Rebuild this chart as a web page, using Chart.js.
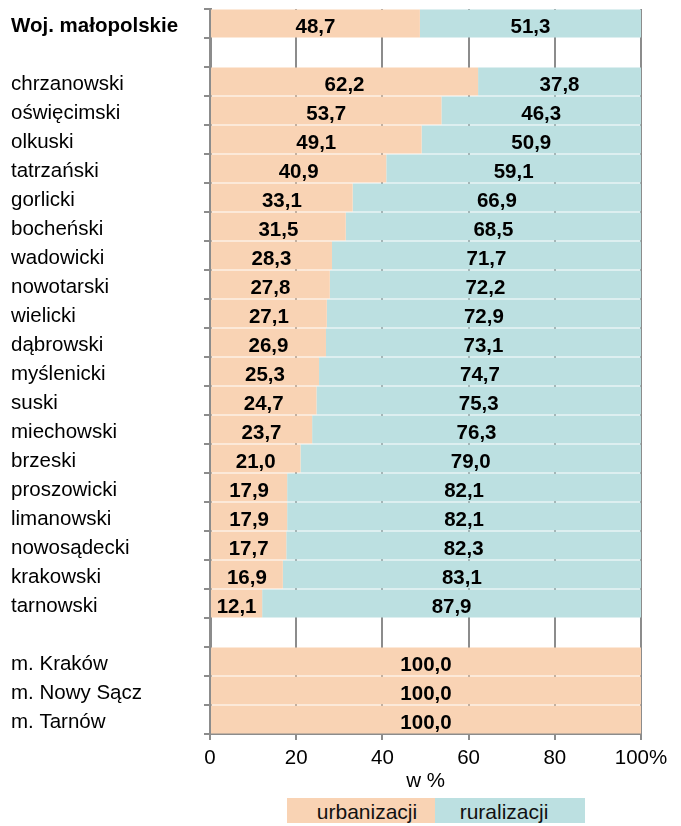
<!DOCTYPE html>
<html>
<head>
<meta charset="utf-8">
<script src="https://cdn.jsdelivr.net/npm/chart.js@4"></script>
<style>
  body { margin: 0; background: #fff; font-family: "Liberation Sans", Arial, sans-serif; }
  #wrap { position: relative; width: 681px; height: 826px; }
  #chart { position: absolute; left: 0; top: 0; }
  #legend { position: absolute; left: 287px; top: 798px; display: flex; }
  #legend div { height: 25px; line-height: 27px; font-size: 21px; text-align: center; color: #111; box-sizing: border-box; }
</style>
</head>
<body>
<div id="wrap">
  <canvas id="chart" width="681" height="800"></canvas>
  <div id="legend"></div>
</div>
<script>
// rows, in order from top; blank labels are the gaps between groups
const labels = ['Woj. małopolskie', ' ', 'chrzanowski', 'oświęcimski', 'olkuski', 'tatrzański', 'gorlicki',
    'bocheński', 'wadowicki', 'nowotarski', 'wielicki', 'dąbrowski', 'myślenicki', 'suski', 'miechowski',
    'brzeski', 'proszowicki', 'limanowski', 'nowosądecki', 'krakowski', 'tarnowski', '  ',
    'm. Kraków', 'm. Nowy Sącz', 'm. Tarnów'];
const urbanizacji = [48.7, null, 62.2, 53.7, 49.1, 40.9, 33.1, 31.5, 28.3, 27.8, 27.1, 26.9, 25.3, 24.7,
    23.7, 21.0, 17.9, 17.9, 17.7, 16.9, 12.1, null, 100.0, 100.0, 100.0];
const ruralizacji = [51.3, null, 37.8, 46.3, 50.9, 59.1, 66.9, 68.5, 71.7, 72.2, 72.9, 73.1, 74.7, 75.3,
    76.3, 79.0, 82.1, 82.1, 82.3, 83.1, 87.9, null, null, null, null];
const xTicks = [0, 20, 40, 60, 80, 100];

const peach = '#F9D3B4';
const teal = '#BCE0E1';
const gridGrey = '#8C8C8C';
const font = '"Liberation Sans", Arial, sans-serif';

// value labels in the middle of each segment (sit a bit low, like the original)
const valueLabels = {
    id: 'valueLabels',
    beforeDraw(chart) {
        // nudge the category labels down a few px
        const items = chart.scales.y.getLabelItems();
        items.forEach(it => {
            if (!it._nudged) { it.textOffset += 3; it._nudged = true; }
        });
    },
    afterDatasetsDraw(chart) {
        const ctx = chart.ctx;
        ctx.save();
        ctx.font = 'bold 20.5px ' + font;
        ctx.fillStyle = '#000';
        ctx.textAlign = 'center';
        ctx.textBaseline = 'middle';
        chart.data.datasets.forEach((ds, i) => {
            chart.getDatasetMeta(i).data.forEach((bar, j) => {
                const v = ds.data[j];
                if (v == null || v === 0) return;
                const x = (bar.x + bar.base) / 2;
                ctx.fillText(v.toFixed(1).replace('.', ','), x, bar.y + 3.5);
            });
        });
        ctx.restore();
    }
};

const chart = new Chart(document.getElementById('chart'), {
    type: 'bar',
    data: {
        labels: labels,
        datasets: [
            { label: 'urbanizacji', data: urbanizacji, backgroundColor: peach, barPercentage: 1, categoryPercentage: 0.965 },
            { label: 'ruralizacji', data: ruralizacji, backgroundColor: teal, barPercentage: 1, categoryPercentage: 0.965 }
        ]
    },
    options: {
        indexAxis: 'y',
        responsive: false,
        animation: false,
        layout: { padding: { left: 11, right: 40, top: 9, bottom: 0 } },
        scales: {
            x: {
                stacked: true,
                min: 0,
                max: 100,
                afterBuildTicks: (scale) => { scale.ticks = xTicks.map(v => ({ value: v })); },
                afterFit: (scale) => { scale.height = 66; },
                grid: { color: gridGrey, lineWidth: 2, tickLength: 6, drawOnChartArea: true },
                border: { color: gridGrey, width: 2 },
                ticks: {
                    color: '#000',
                    padding: 6,
                    font: { family: font, size: 20.5 },
                    maxRotation: 0,
                    callback: (v) => v === 100 ? '100%' : v
                },
                title: { display: true, text: 'w %', color: '#000', font: { family: font, size: 20.5 }, padding: { top: 0, bottom: 6 } }
            },
            y: {
                stacked: true,
                afterFit: (scale) => {
                    scale.width = 199;
                    scale.paddingTop = 0;
                    scale.paddingBottom = 0;
                },
                grid: { color: gridGrey, lineWidth: 2, tickLength: 6, drawOnChartArea: false },
                border: { color: gridGrey, width: 3 },
                ticks: {
                    color: '#000',
                    crossAlign: 'far',
                    autoSkip: false,
                    font: (c) => c.index === 0
                        ? { family: font, size: 20.5, weight: 'bold' }
                        : { family: font, size: 20.5 }
                }
            }
        },
        plugins: {
            legend: { display: false },
            tooltip: { enabled: false }
        }
    },
    plugins: [valueLabels]
});

// legend built from the datasets
const legend = document.getElementById('legend');
chart.data.datasets.forEach((ds, i) => {
    const d = document.createElement('div');
    d.style.background = ds.backgroundColor;
    d.style.width = i === 0 ? '148px' : '150px';
    if (i === 0) d.style.paddingLeft = '12px';
    else d.style.paddingRight = '12px';
    d.textContent = ds.label;
    legend.appendChild(d);
});
</script>
</body>
</html>
